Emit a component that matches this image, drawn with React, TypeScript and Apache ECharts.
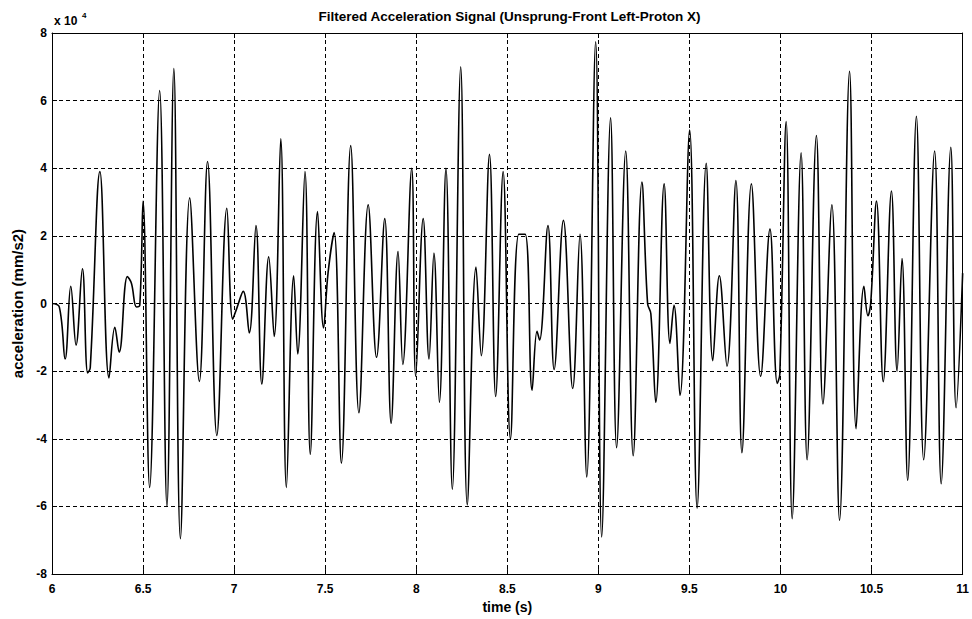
import React, { useEffect, useRef } from "react";
import * as echarts from "echarts";

// time (s)
const timeS = [
  6.0, 6.04, 6.072, 6.103, 6.132, 6.167, 6.196, 6.21, 6.263, 6.313, 6.345, 6.369, 6.414, 6.436, 6.464, 6.482, 6.5, 6.536, 6.591, 6.631, 6.669,
  6.705, 6.756, 6.809, 6.854, 6.905, 6.96, 6.992, 7.014, 7.05, 7.083, 7.12, 7.152, 7.19, 7.22, 7.256, 7.287,
  7.327, 7.349, 7.389, 7.418, 7.458, 7.491, 7.516, 7.549, 7.589, 7.64, 7.685, 7.736, 7.782, 7.827, 7.862, 7.9, 7.926,
  7.975, 7.997, 8.038, 8.07, 8.097, 8.127, 8.163, 8.198, 8.244, 8.28, 8.328, 8.357, 8.402, 8.436, 8.477, 8.517,
  8.563, 8.598, 8.636, 8.663, 8.677, 8.723, 8.757, 8.808, 8.859, 8.899, 8.936, 8.985, 9.018, 9.067, 9.1, 9.15, 9.191,
  9.239, 9.27, 9.288, 9.315, 9.361, 9.393, 9.415, 9.448, 9.501, 9.542, 9.592, 9.628, 9.664, 9.706, 9.755, 9.788,
  9.84, 9.891, 9.942, 9.982, 9.996, 10.031, 10.064, 10.113, 10.146, 10.197, 10.233, 10.282, 10.324, 10.379, 10.415,
  10.458, 10.48, 10.495, 10.527, 10.564, 10.609, 10.64, 10.667, 10.698, 10.746, 10.786, 10.846, 10.882, 10.935, 10.964, 11.0,
];

// acceleration in units of 10^4 mm/s2
const accelE4 = [
  0, -0.1, -1.64, 0.51, -1.23, 1.03, -2.05, -1.9, 3.9, -2.2, -0.7, -1.44, 0.8, 0.6, -0.1, -0.05, 3.03, -5.44, 6.3, -6.0, 6.95,
  -6.95, 3.13, -2.3, 4.2, -3.9, 2.82, -0.46, -0.15, 0.36, -0.87, 2.31, -2.38, 1.38, -0.97, 4.87, -5.44,
  0.82, -1.49, 3.9, -4.46, 2.72, -0.72, 0.92, 2.1, -4.72, 4.67, -3.23, 2.92, -1.59, 2.51, -3.54, 1.54, -1.8,
  4.0, -2.15, 2.51, -1.64, 1.49, -2.92, 4.0, -5.49, 7.0, -5.95, 1.08, -1.54, 4.41, -2.75, 3.9, -4.0,
  2.05, 2.05, -2.56, -0.82, -1.08, 2.31, -1.95, 2.46, -2.51, 2.05, -5.13, 7.74, -6.9, 5.49, -4.26, 4.51, -4.5,
  3.59, 0.0, -0.3, -2.92, 3.54, -1.18, -0.05, -2.72, 5.13, -6.05, 4.15, -1.69, 0.82, -1.85, 3.64, -4.41,
  3.54, -2.15, 2.2, -2.36, -2.1, 5.38, -6.36, 4.46, -4.62, 4.97, -2.97, 2.92, -6.41, 6.87, -3.7,
  0.51, -0.36, 0.0, 3.03, -2.31, 3.33, -2.0, 1.33, -5.23, 5.54, -4.62, 4.51, -5.33, 4.62, -3.08, 0.9,
];

const TITLE = "Filtered Acceleration Signal (Unsprung-Front Left-Proton X)";
const X_NAME = "time (s)";
const Y_NAME = "acceleration (mm/s2)";
const X_RANGE = [6, 11];
const X_STEP = 0.5;
const Y_RANGE = [-8, 8];
const Y_STEP = 2;

export default function App() {
  const ref = useRef<HTMLDivElement>(null);
  useEffect(() => {
    const chart = echarts.init(ref.current!, null, { renderer: "svg" });
    const fontFamily = "Arial, 'Liberation Sans', Helvetica, sans-serif";
    const txt = { color: "#000", fontFamily, fontSize: 12, fontWeight: "bold" as const };
    const grid = { left: 52, right: 5, top: 33, bottom: 35 };
    const dash = [4, 3];
    chart.setOption({
      animation: false,
      backgroundColor: "#fff",
      grid,
      graphic: [
        {
          type: "text",
          x: 509.5,
          y: 9,
          style: {
            text: TITLE,
            align: "center",
            textAlign: "center",
            verticalAlign: "top",
            fill: "#000",
            fontFamily,
            fontSize: 13.5,
            fontWeight: "bold",
          },
        },
        {
          type: "text",
          x: 54,
          y: 15,
          style: { text: "x 10", fill: "#000", fontFamily, fontSize: 12, fontWeight: "bold", verticalAlign: "top" },
        },
        {
          type: "text",
          x: 82,
          y: 11,
          style: { text: "4", fill: "#000", fontFamily, fontSize: 8, fontWeight: "bold", verticalAlign: "top" },
        },
      ],
      xAxis: [
        {
          type: "value",
          min: X_RANGE[0],
          max: X_RANGE[1],
          interval: X_STEP,
          position: "bottom",
          axisLine: { show: true, onZero: false, lineStyle: { color: "#000", width: 1 } },
          axisTick: { show: true, inside: true, length: 5, lineStyle: { color: "#000" } },
          axisLabel: { ...txt, margin: 9 },
          splitLine: { show: true, lineStyle: { color: "#000", type: dash, width: 1 } },
          name: X_NAME,
          nameLocation: "middle",
          nameGap: 24,
          nameTextStyle: { ...txt, fontSize: 14 },
        },
        {
          type: "value",
          min: X_RANGE[0],
          max: X_RANGE[1],
          interval: X_STEP,
          position: "top",
          axisLine: { show: true, onZero: false, lineStyle: { color: "#000", width: 1 } },
          axisTick: { show: true, inside: true, length: 5, lineStyle: { color: "#000" } },
          axisLabel: { show: false },
          splitLine: { show: false },
        },
      ],
      yAxis: [
        {
          type: "value",
          min: Y_RANGE[0],
          max: Y_RANGE[1],
          interval: Y_STEP,
          position: "left",
          axisLine: { show: true, onZero: false, lineStyle: { color: "#000", width: 1 } },
          axisTick: { show: true, inside: true, length: 5, lineStyle: { color: "#000" } },
          axisLabel: { ...txt, margin: 5 },
          splitLine: { show: true, lineStyle: { color: "#000", type: dash, width: 1 } },
          name: Y_NAME,
          nameLocation: "middle",
          nameGap: 27,
          nameTextStyle: { ...txt, fontSize: 15 },
        },
        {
          type: "value",
          min: Y_RANGE[0],
          max: Y_RANGE[1],
          interval: Y_STEP,
          position: "right",
          axisLine: { show: true, onZero: false, lineStyle: { color: "#000", width: 1 } },
          axisTick: { show: true, inside: true, length: 5, lineStyle: { color: "#000" } },
          axisLabel: { show: false },
          splitLine: { show: false },
        },
      ],
      series: [
        {
          type: "line",
          xAxisIndex: 0,
          yAxisIndex: 0,
          data: timeS.map((t, i) => [t, accelE4[i]]),
          showSymbol: false,
          smooth: 0.4,
          lineStyle: { color: "#000", width: 1.6 },
          clip: true,
        },
      ],
    });
    return () => chart.dispose();
  }, []);
  return (
    <div
      ref={ref}
      style={{ position: "fixed", left: 0, top: 0, width: 972, height: 619 }}
    />
  );
}
